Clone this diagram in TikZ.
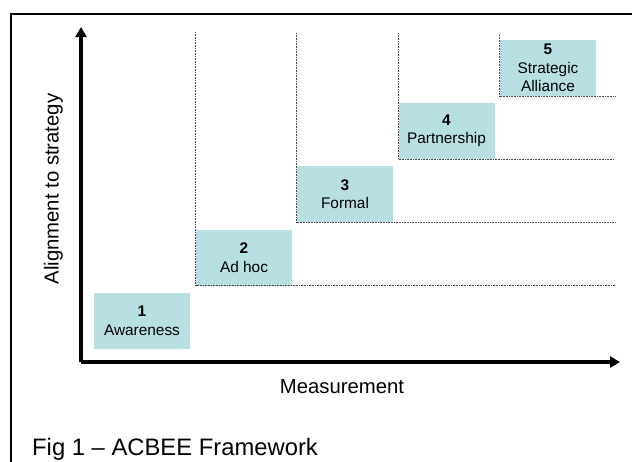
\documentclass[tikz,border=0pt]{standalone}
\usepackage{fontspec}
\setmainfont{Liberation Sans}
\usetikzlibrary{arrows.meta}
\definecolor{stagefill}{RGB}{184,223,225}
\definecolor{guidegray}{RGB}{70,70,70}
\begin{document}
\begin{tikzpicture}[x=1pt,y=-1pt,
  stagebox/.style={fill=stagefill, draw=none, minimum width=96pt, minimum height=56pt,
    inner sep=0pt, align=center, font=\fontsize{15.4}{18.5}\selectfont},
  guide/.style={draw=guidegray, line width=0.8pt, dash pattern=on 1pt off 0.6pt},
  axis/.style={line width=3.4pt, line join=miter, -{Triangle[length=10pt,width=11pt]}},
  axislabel/.style={font=\fontsize{20.3}{24}\selectfont, inner sep=0pt},
  frameline/.style={line width=1.6pt}
]
\useasboundingbox (0,0) rectangle (632,461);

% outer frame (only its top and left sides fall inside the page)
\draw[frameline] (11,475) -- (11,14) -- (645,14);

% maturity stages
\node[stagebox] (b1) at (142,321)   {\textbf{1}\\Awareness};
\node[stagebox] (b2) at (244,257.5) {\textbf{2}\\Ad hoc};
\node[stagebox] (b3) at (345,194)   {\textbf{3}\\Formal};
\node[stagebox] (b4) at (446.5,131) {\textbf{4}\\Partnership};
\node[stagebox] (b5) at (548,68)    {\textbf{5}\\Strategic\\Alliance};

% dotted guides framing each stage step
\coordinate (t2) at (b2.west |- 0,32);
\coordinate (t3) at (b3.west |- 0,33);
\coordinate (t4) at (b4.west |- 0,33);
\coordinate (t5) at (b5.west |- 0,35);
\coordinate (r2) at (615,0 |- b2.south);
\coordinate (r3) at (615,0 |- b3.south);
\coordinate (r4) at (614,0 |- b4.south);
\coordinate (r5) at (615,0 |- b5.south);
\draw[guide] (t2) |- (r2);
\draw[guide] (t3) |- (r3);
\draw[guide] (t4) |- (r4);
\draw[guide] (t5) |- (r5);

% axes
\coordinate (origin) at (81,362);
\coordinate (ytip) at (81,27);
\coordinate (xtip) at (620,362);
\draw[axis] (origin) -- (ytip);
\draw[axis] (origin) -- (xtip);

% labels
\node[axislabel, rotate=90, anchor=base] (ylab) at (58.5,189) {Alignment to strategy};
\node[axislabel, anchor=base] (xlab) at (342,393) {Measurement};
\node[font=\fontsize{23.8}{28}\selectfont, inner sep=0pt, anchor=base west] (cap) at (32,455)
  {Fig 1 – ACBEE Framework};
\end{tikzpicture}
\end{document}
